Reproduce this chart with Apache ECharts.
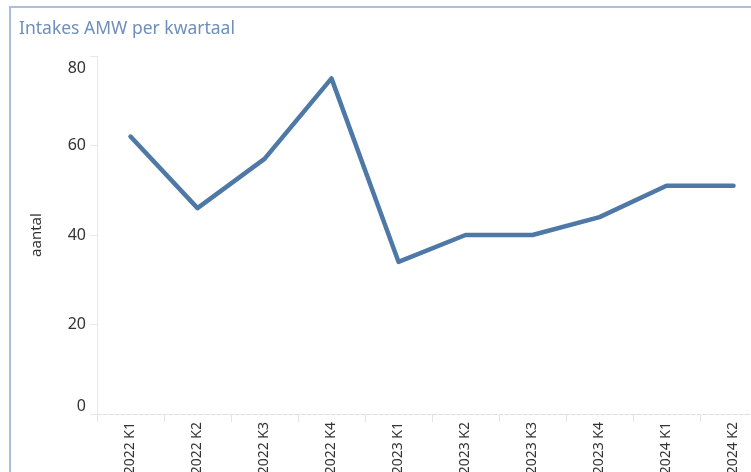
<!DOCTYPE html>
<html>
<head>
<meta charset="utf-8">
<script src="https://cdn.jsdelivr.net/npm/echarts@6/dist/echarts.min.js"></script>
<style>
  html, body { margin: 0; padding: 0; background: #fff; overflow: hidden; width: 751px; height: 472px; }
  #frame { position: absolute; left: 9px; top: 6px; right: 0; bottom: 0; border-left: 2px solid #a9bfdb; border-top: 2px solid #a9bfdb; }
  #chart { position: absolute; left: 0; top: 0; width: 800px; height: 472px; }
</style>
</head>
<body>
<div id="frame"></div>
<div id="chart"></div>
<script>
// kwartalen en aantallen intakes
const quarters = ['2022 K1', '2022 K2', '2022 K3', '2022 K4', '2023 K1', '2023 K2', '2023 K3', '2023 K4', '2024 K1', '2024 K2']
const intakes = [62, 46, 57, 75, 34, 40, 40, 44, 51, 51]
const yTicks = [0, 20, 40, 60, 80]

const chart = echarts.init(document.getElementById('chart'), null, { renderer: 'canvas' })

chart.setOption({
  animation: false,
  backgroundColor: 'transparent',
  title: {
    text: 'Intakes AMW per kwartaal',
    left: 14,
    top: 15,
    textStyle: { color: '#6e8fbb', fontSize: 17.5, fontWeight: 'normal', fontFamily: 'Noto Sans' },
  },
  grid: { left: 97, right: 33, top: 56, bottom: 58, containLabel: false, outerBoundsMode: 'none' },
  xAxis: {
    type: 'category',
    data: quarters,
    boundaryGap: true,
    axisLine: { show: true, lineStyle: { color: '#dcdcdc', type: 'dashed', width: 1 } },
    axisTick: { show: true, length: 8, lineStyle: { color: '#e4e4e4' } },
    axisLabel: { rotate: 90, margin: 8, color: '#333', fontSize: 14, fontFamily: 'Noto Sans' },
    splitLine: { show: false },
  },
  yAxis: {
    type: 'value',
    min: yTicks[0],
    max: yTicks[yTicks.length - 1],
    interval: 20,
    name: 'aantal',
    nameLocation: 'middle',
    nameGap: 53,
    nameTextStyle: { color: '#333', fontSize: 15, fontFamily: 'Noto Sans' },
    axisLine: { show: true, lineStyle: { color: '#e8e8e8' } },
    axisTick: { show: true, length: 7, lineStyle: { color: '#e8e8e8' } },
    axisLabel: {
      margin: 11,
      color: '#333',
      fontSize: 16,
      fontFamily: 'Noto Sans',
      verticalAlignMinLabel: 'bottom',
      verticalAlignMaxLabel: 'top',
      formatter: (v) => v === yTicks[yTicks.length - 1] ? '{top|' + v + '}' : String(v),
      rich: { top: { fontSize: 16, color: '#333', fontFamily: 'Noto Sans', padding: [4, 0, 0, 0] } },
    },
    splitLine: { show: false },
  },
  series: [
    {
      name: 'aantal',
      type: 'line',
      data: intakes,
      symbol: 'none',
      lineStyle: { color: '#4e79a7', width: 4.5, cap: 'round', join: 'round' },
    },
  ],
})
</script>
</body>
</html>
